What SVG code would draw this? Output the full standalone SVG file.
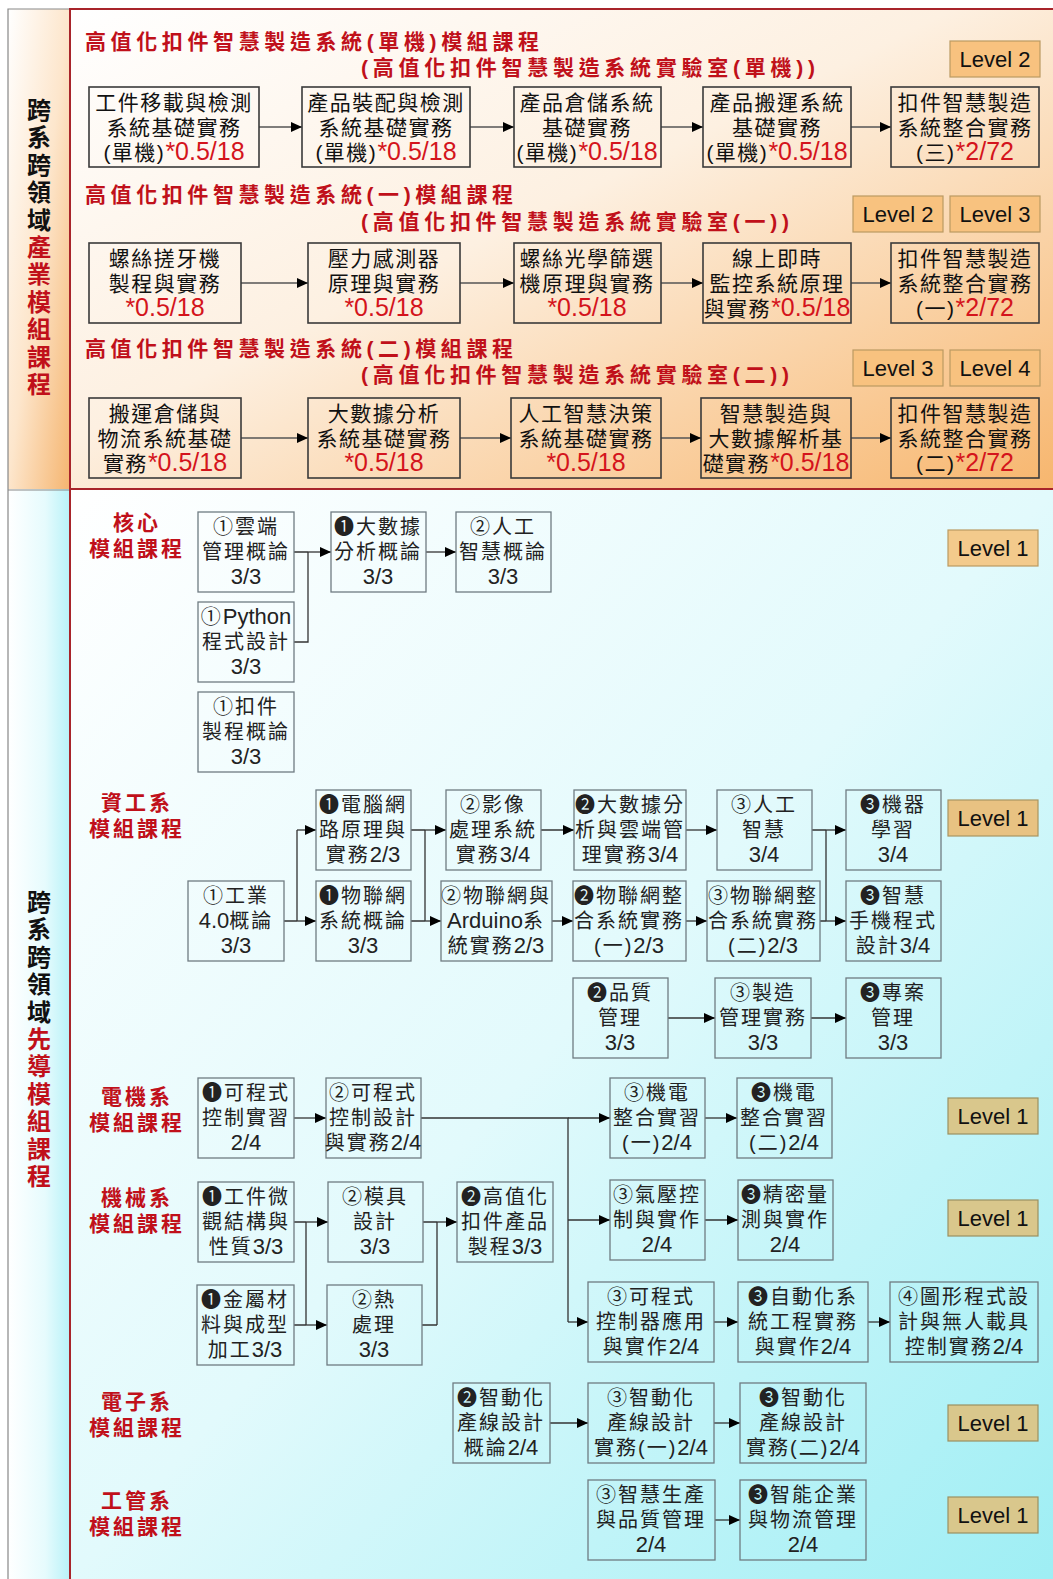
<svg xmlns="http://www.w3.org/2000/svg" width="1053" height="1579" viewBox="0 0 1053 1579" lang="zh-TW">
<defs>
<linearGradient id="gTop" x1="0" y1="0" x2="1" y2="1">
<stop offset="0" stop-color="#ffffff"/><stop offset="0.45" stop-color="#fdf0e1"/><stop offset="1" stop-color="#f7b66e"/>
</linearGradient>
<linearGradient id="gTopL" x1="0" y1="0" x2="1" y2="1">
<stop offset="0" stop-color="#ffffff"/><stop offset="0.5" stop-color="#fde6cc"/><stop offset="1" stop-color="#f5b570"/>
</linearGradient>
<linearGradient id="gBot" x1="0" y1="0" x2="1" y2="1">
<stop offset="0" stop-color="#ffffff"/><stop offset="0.5" stop-color="#e2fafc"/><stop offset="1" stop-color="#9eeef4"/>
</linearGradient>
<linearGradient id="gBotL" x1="0" y1="0" x2="1" y2="0">
<stop offset="0" stop-color="#ffffff"/><stop offset="0.6" stop-color="#e6fbfd"/><stop offset="1" stop-color="#b8f2f8"/>
</linearGradient>
<marker id="ah" markerWidth="11" markerHeight="10" refX="11" refY="5" orient="auto" markerUnits="userSpaceOnUse">
<path d="M0,0 L11,5 L0,10 z" fill="#000"/>
</marker>
<style>
.bt{fill:none;stroke:#3a3a3a;stroke-width:1.6}
.bl{fill:none;stroke:#6f7c82;stroke-width:1.3}
.tt,.tl,.ttl,.lab,.vt{font-family:"Liberation Sans","Noto Sans CJK TC","DejaVu Sans",sans-serif}
.tt{font-size:21px;letter-spacing:1.5px;text-anchor:middle;fill:#111}
.tl{font-size:20px;letter-spacing:2px;text-anchor:middle;fill:#222}
.n{letter-spacing:0}
.tt .n{font-size:25px}
.tl .n{font-size:22px}
.r{fill:#d4141c}
.ttl{font-size:21px;font-weight:700;fill:#c0101a}
.lab{font-size:21px;font-weight:700;fill:#c0101a;text-anchor:middle;letter-spacing:3px}
.vt{font-size:24px;font-weight:700;text-anchor:middle;fill:#111}
.vt .r{fill:#c0101a}
.lv{font-family:"Liberation Sans",Arial,sans-serif;font-size:22px;text-anchor:middle;fill:#111}
.lvT{fill:#f8c27f;stroke:#bb9a62;stroke-width:1.2}
.lvC{fill:#f3ca8c;stroke:#bb9a62;stroke-width:1.2}
.lvD{fill:#e8c282;stroke:#a89462;stroke-width:1.2}
.lvK{fill:#d9c78c;stroke:#9a9062;stroke-width:1.2}
.ct{fill:none;stroke:#555;stroke-width:1.3}
.cl{fill:none;stroke:#333;stroke-width:1.3}
</style>
</defs>

<g id="background">
<rect x="70" y="9" width="983" height="480" fill="url(#gTop)"/>
<rect x="8" y="9" width="62" height="480" fill="url(#gTopL)"/>
<rect x="70" y="489" width="983" height="1090" fill="url(#gBot)"/>
<rect x="8" y="489" width="62" height="1090" fill="url(#gBotL)"/>
<path d="M8,1579 V9 H70 M8,490 H70" fill="none" stroke="#888" stroke-width="1.2"/>
<path d="M70,1579 V9 H1053 M70,489 H1053" fill="none" stroke="#a8242a" stroke-width="2"/>
</g>

<g id="side-top">
<text class="vt"><tspan x="39" y="119">跨</tspan><tspan x="39" y="146">系</tspan><tspan x="39" y="174">跨</tspan><tspan x="39" y="201">領</tspan><tspan x="39" y="229">域</tspan><tspan class="r" x="39" y="256">產</tspan><tspan class="r" x="39" y="283">業</tspan><tspan class="r" x="39" y="311">模</tspan><tspan class="r" x="39" y="338">組</tspan><tspan class="r" x="39" y="366">課</tspan><tspan class="r" x="39" y="393">程</tspan></text>
</g>
<g id="side-bottom">
<text class="vt"><tspan x="39" y="911">跨</tspan><tspan x="39" y="938">系</tspan><tspan x="39" y="966">跨</tspan><tspan x="39" y="993">領</tspan><tspan x="39" y="1021">域</tspan><tspan class="r" x="39" y="1048">先</tspan><tspan class="r" x="39" y="1075">導</tspan><tspan class="r" x="39" y="1103">模</tspan><tspan class="r" x="39" y="1130">組</tspan><tspan class="r" x="39" y="1158">課</tspan><tspan class="r" x="39" y="1185">程</tspan></text>
</g>

<g id="titles">
<text class="ttl" x="85" y="49" textLength="454" lengthAdjust="spacing">高值化扣件智慧製造系統(單機)模組課程</text>
<text class="ttl" x="361" y="75" textLength="454" lengthAdjust="spacing">(高值化扣件智慧製造系統實驗室(單機))</text>
<text class="ttl" x="85" y="202" textLength="428" lengthAdjust="spacing">高值化扣件智慧製造系統(一)模組課程</text>
<text class="ttl" x="361" y="229" textLength="428" lengthAdjust="spacing">(高值化扣件智慧製造系統實驗室(一))</text>
<text class="ttl" x="85" y="356" textLength="428" lengthAdjust="spacing">高值化扣件智慧製造系統(二)模組課程</text>
<text class="ttl" x="361" y="382" textLength="428" lengthAdjust="spacing">(高值化扣件智慧製造系統實驗室(二))</text>
</g>

<g id="levels">
<g id="lv-r1"><rect class="lvT" x="950" y="41" width="90" height="36"/><text class="lv" x="995" y="67">Level 2</text></g>
<g id="lv-r2a"><rect class="lvT" x="853" y="196" width="90" height="36"/><text class="lv" x="898" y="222">Level 2</text></g>
<g id="lv-r2b"><rect class="lvT" x="950" y="196" width="90" height="36"/><text class="lv" x="995" y="222">Level 3</text></g>
<g id="lv-r3a"><rect class="lvT" x="853" y="350" width="90" height="36"/><text class="lv" x="898" y="376">Level 3</text></g>
<g id="lv-r3b"><rect class="lvT" x="950" y="350" width="90" height="36"/><text class="lv" x="995" y="376">Level 4</text></g>
<g id="lv-core"><rect class="lvC" x="948" y="530" width="90" height="36"/><text class="lv" x="993" y="556">Level 1</text></g>
<g id="lv-csie"><rect class="lvD" x="948" y="800" width="90" height="36"/><text class="lv" x="993" y="826">Level 1</text></g>
<g id="lv-ee"><rect class="lvK" x="948" y="1098" width="90" height="36"/><text class="lv" x="993" y="1124">Level 1</text></g>
<g id="lv-me"><rect class="lvK" x="948" y="1200" width="90" height="36"/><text class="lv" x="993" y="1226">Level 1</text></g>
<g id="lv-ele"><rect class="lvK" x="948" y="1405" width="90" height="36"/><text class="lv" x="993" y="1431">Level 1</text></g>
<g id="lv-im"><rect class="lvK" x="948" y="1497" width="90" height="36"/><text class="lv" x="993" y="1523">Level 1</text></g>
</g>

<g id="labels">
<text class="lab" x="137" y="530">核心</text><text class="lab" x="137" y="556">模組課程</text>
<text class="lab" x="137" y="810">資工系</text><text class="lab" x="137" y="836">模組課程</text>
<text class="lab" x="137" y="1104">電機系</text><text class="lab" x="137" y="1130">模組課程</text>
<text class="lab" x="137" y="1205">機械系</text><text class="lab" x="137" y="1231">模組課程</text>
<text class="lab" x="137" y="1409">電子系</text><text class="lab" x="137" y="1435">模組課程</text>
<text class="lab" x="137" y="1508">工管系</text><text class="lab" x="137" y="1534">模組課程</text>
</g>

<g id="connectors">
<path class="ct" marker-end="url(#ah)" d="M259,127 H302"/>
<path class="ct" marker-end="url(#ah)" d="M470,127 H514"/>
<path class="ct" marker-end="url(#ah)" d="M661,127 H703"/>
<path class="ct" marker-end="url(#ah)" d="M851,127 H891"/>
<path class="ct" marker-end="url(#ah)" d="M241,283 H308"/>
<path class="ct" marker-end="url(#ah)" d="M460,283 H514"/>
<path class="ct" marker-end="url(#ah)" d="M661,283 H703"/>
<path class="ct" marker-end="url(#ah)" d="M851,283 H891"/>
<path class="ct" marker-end="url(#ah)" d="M241,438 H308"/>
<path class="ct" marker-end="url(#ah)" d="M460,438 H511"/>
<path class="ct" marker-end="url(#ah)" d="M661,438 H701"/>
<path class="ct" marker-end="url(#ah)" d="M851,438 H891"/>
<path class="cl" d="M294,552 H308 M294,642 H308 V552"/>
<path class="cl" marker-end="url(#ah)" d="M308,552 H331"/>
<path class="cl" marker-end="url(#ah)" d="M426,552 H456"/>
<path class="cl" d="M284,921 H297 M297,830 V921"/>
<path class="cl" marker-end="url(#ah)" d="M297,830 H316"/>
<path class="cl" marker-end="url(#ah)" d="M297,921 H316"/>
<path class="cl" d="M411,830 H425 M411,921 H425 M425,830 V921"/>
<path class="cl" marker-end="url(#ah)" d="M425,830 H446"/>
<path class="cl" marker-end="url(#ah)" d="M425,921 H441"/>
<path class="cl" marker-end="url(#ah)" d="M541,830 H574"/>
<path class="cl" marker-end="url(#ah)" d="M552,921 H573"/>
<path class="cl" marker-end="url(#ah)" d="M686,830 H717"/>
<path class="cl" marker-end="url(#ah)" d="M686,921 H707"/>
<path class="cl" d="M812,830 H826 M820,921 H826 M826,830 V921"/>
<path class="cl" marker-end="url(#ah)" d="M826,830 H846"/>
<path class="cl" marker-end="url(#ah)" d="M826,921 H846"/>
<path class="cl" marker-end="url(#ah)" d="M668,1018 H715"/>
<path class="cl" marker-end="url(#ah)" d="M811,1018 H846"/>
<path class="cl" marker-end="url(#ah)" d="M294,1118 H326"/>
<path class="cl" d="M421,1118 H568 V1322"/>
<path class="cl" marker-end="url(#ah)" d="M568,1118 H610"/>
<path class="cl" marker-end="url(#ah)" d="M568,1220 H610"/>
<path class="cl" marker-end="url(#ah)" d="M568,1322 H588"/>
<path class="cl" marker-end="url(#ah)" d="M705,1118 H737"/>
<path class="cl" d="M294,1222 H306 M294,1325 H306 M306,1222 V1325"/>
<path class="cl" marker-end="url(#ah)" d="M306,1222 H328"/>
<path class="cl" marker-end="url(#ah)" d="M306,1325 H327"/>
<path class="cl" d="M423,1222 H437 M422,1325 H437 M437,1222 V1325"/>
<path class="cl" marker-end="url(#ah)" d="M437,1222 H457"/>
<path class="cl" marker-end="url(#ah)" d="M705,1220 H738"/>
<path class="cl" marker-end="url(#ah)" d="M714,1322 H738"/>
<path class="cl" marker-end="url(#ah)" d="M868,1322 H890"/>
<path class="cl" marker-end="url(#ah)" d="M550,1423 H588"/>
<path class="cl" marker-end="url(#ah)" d="M714,1423 H740"/>
<path class="cl" marker-end="url(#ah)" d="M715,1520 H740"/>
</g>

<g id="top-row1">
<g id="t1a"><rect class="bt" x="89" y="87" width="170" height="80"/><text class="tt"><tspan x="174" y="110">工件移載與檢測</tspan><tspan x="174" y="135">系統基礎實務</tspan><tspan x="174" y="160">(單機)<tspan class="n r">*0.5/18</tspan></tspan></text></g>
<g id="t1b"><rect class="bt" x="302" y="87" width="168" height="80"/><text class="tt"><tspan x="386" y="110">產品裝配與檢測</tspan><tspan x="386" y="135">系統基礎實務</tspan><tspan x="386" y="160">(單機)<tspan class="n r">*0.5/18</tspan></tspan></text></g>
<g id="t1c"><rect class="bt" x="514" y="87" width="147" height="80"/><text class="tt"><tspan x="587" y="110">產品倉儲系統</tspan><tspan x="587" y="135">基礎實務</tspan><tspan x="587" y="160">(單機)<tspan class="n r">*0.5/18</tspan></tspan></text></g>
<g id="t1d"><rect class="bt" x="703" y="87" width="148" height="80"/><text class="tt"><tspan x="777" y="110">產品搬運系統</tspan><tspan x="777" y="135">基礎實務</tspan><tspan x="777" y="160">(單機)<tspan class="n r">*0.5/18</tspan></tspan></text></g>
<g id="t1e"><rect class="bt" x="891" y="87" width="148" height="80"/><text class="tt"><tspan x="965" y="110">扣件智慧製造</tspan><tspan x="965" y="135">系統整合實務</tspan><tspan x="965" y="160">(三)<tspan class="n r">*2/72</tspan></tspan></text></g>
</g>

<g id="top-row2">
<g id="t2a"><rect class="bt" x="89" y="243" width="152" height="80"/><text class="tt"><tspan x="165" y="266">螺絲搓牙機</tspan><tspan x="165" y="291">製程與實務</tspan><tspan x="165" y="316" class="n r">*0.5/18</tspan></text></g>
<g id="t2b"><rect class="bt" x="308" y="243" width="152" height="80"/><text class="tt"><tspan x="384" y="266">壓力感測器</tspan><tspan x="384" y="291">原理與實務</tspan><tspan x="384" y="316" class="n r">*0.5/18</tspan></text></g>
<g id="t2c"><rect class="bt" x="514" y="243" width="147" height="80"/><text class="tt"><tspan x="587" y="266">螺絲光學篩選</tspan><tspan x="587" y="291">機原理與實務</tspan><tspan x="587" y="316" class="n r">*0.5/18</tspan></text></g>
<g id="t2d"><rect class="bt" x="703" y="243" width="148" height="80"/><text class="tt"><tspan x="777" y="266">線上即時</tspan><tspan x="777" y="291">監控系統原理</tspan><tspan x="777" y="316">與實務<tspan class="n r">*0.5/18</tspan></tspan></text></g>
<g id="t2e"><rect class="bt" x="891" y="243" width="148" height="80"/><text class="tt"><tspan x="965" y="266">扣件智慧製造</tspan><tspan x="965" y="291">系統整合實務</tspan><tspan x="965" y="316">(一)<tspan class="n r">*2/72</tspan></tspan></text></g>
</g>

<g id="top-row3">
<g id="t3a"><rect class="bt" x="89" y="398" width="152" height="80"/><text class="tt"><tspan x="165" y="421">搬運倉儲與</tspan><tspan x="165" y="446">物流系統基礎</tspan><tspan x="165" y="471">實務<tspan class="n r">*0.5/18</tspan></tspan></text></g>
<g id="t3b"><rect class="bt" x="308" y="398" width="152" height="80"/><text class="tt"><tspan x="384" y="421">大數據分析</tspan><tspan x="384" y="446">系統基礎實務</tspan><tspan x="384" y="471" class="n r">*0.5/18</tspan></text></g>
<g id="t3c"><rect class="bt" x="511" y="398" width="150" height="80"/><text class="tt"><tspan x="586" y="421">人工智慧決策</tspan><tspan x="586" y="446">系統基礎實務</tspan><tspan x="586" y="471" class="n r">*0.5/18</tspan></text></g>
<g id="t3d"><rect class="bt" x="701" y="398" width="150" height="80"/><text class="tt"><tspan x="776" y="421">智慧製造與</tspan><tspan x="776" y="446">大數據解析基</tspan><tspan x="776" y="471">礎實務<tspan class="n r">*0.5/18</tspan></tspan></text></g>
<g id="t3e"><rect class="bt" x="891" y="398" width="148" height="80"/><text class="tt"><tspan x="965" y="421">扣件智慧製造</tspan><tspan x="965" y="446">系統整合實務</tspan><tspan x="965" y="471">(二)<tspan class="n r">*2/72</tspan></tspan></text></g>
</g>

<g id="core">
<g id="c1"><rect class="bl" x="198" y="512" width="96" height="80"/><text class="tl"><tspan x="246" y="534">①雲端</tspan><tspan x="246" y="559">管理概論</tspan><tspan x="246" y="584" class="n">3/3</tspan></text></g>
<g id="c2"><rect class="bl" x="198" y="602" width="96" height="80"/><text class="tl"><tspan x="246" y="624">①<tspan class="n">Python</tspan></tspan><tspan x="246" y="649">程式設計</tspan><tspan x="246" y="674" class="n">3/3</tspan></text></g>
<g id="c3"><rect class="bl" x="198" y="692" width="96" height="80"/><text class="tl"><tspan x="246" y="714">①扣件</tspan><tspan x="246" y="739">製程概論</tspan><tspan x="246" y="764" class="n">3/3</tspan></text></g>
<g id="c4"><rect class="bl" x="331" y="512" width="95" height="80"/><text class="tl"><tspan x="378" y="534">❶大數據</tspan><tspan x="378" y="559">分析概論</tspan><tspan x="378" y="584" class="n">3/3</tspan></text></g>
<g id="c5"><rect class="bl" x="456" y="512" width="95" height="80"/><text class="tl"><tspan x="503" y="534">②人工</tspan><tspan x="503" y="559">智慧概論</tspan><tspan x="503" y="584" class="n">3/3</tspan></text></g>
</g>

<g id="csie">
<g id="d1"><rect class="bl" x="188" y="881" width="96" height="80"/><text class="tl"><tspan x="236" y="903">①工業</tspan><tspan x="236" y="928"><tspan class="n">4.0</tspan>概論</tspan><tspan x="236" y="953" class="n">3/3</tspan></text></g>
<g id="d2"><rect class="bl" x="316" y="790" width="95" height="80"/><text class="tl"><tspan x="363" y="812">❶電腦網</tspan><tspan x="363" y="837">路原理與</tspan><tspan x="363" y="862">實務<tspan class="n">2/3</tspan></tspan></text></g>
<g id="d3"><rect class="bl" x="316" y="881" width="95" height="80"/><text class="tl"><tspan x="363" y="903">❶物聯網</tspan><tspan x="363" y="928">系統概論</tspan><tspan x="363" y="953" class="n">3/3</tspan></text></g>
<g id="d4"><rect class="bl" x="446" y="790" width="95" height="80"/><text class="tl"><tspan x="493" y="812">②影像</tspan><tspan x="493" y="837">處理系統</tspan><tspan x="493" y="862">實務<tspan class="n">3/4</tspan></tspan></text></g>
<g id="d5"><rect class="bl" x="441" y="881" width="111" height="80"/><text class="tl"><tspan x="496" y="903">②物聯網與</tspan><tspan x="496" y="928"><tspan class="n">Arduino</tspan>系</tspan><tspan x="496" y="953">統實務<tspan class="n">2/3</tspan></tspan></text></g>
<g id="d6"><rect class="bl" x="574" y="790" width="112" height="80"/><text class="tl"><tspan x="630" y="812">❷大數據分</tspan><tspan x="630" y="837">析與雲端管</tspan><tspan x="630" y="862">理實務<tspan class="n">3/4</tspan></tspan></text></g>
<g id="d7"><rect class="bl" x="573" y="881" width="113" height="80"/><text class="tl"><tspan x="629" y="903">❷物聯網整</tspan><tspan x="629" y="928">合系統實務</tspan><tspan x="629" y="953">(一)<tspan class="n">2/3</tspan></tspan></text></g>
<g id="d8"><rect class="bl" x="717" y="790" width="95" height="80"/><text class="tl"><tspan x="764" y="812">③人工</tspan><tspan x="764" y="837">智慧</tspan><tspan x="764" y="862" class="n">3/4</tspan></text></g>
<g id="d9"><rect class="bl" x="707" y="881" width="113" height="80"/><text class="tl"><tspan x="763" y="903">③物聯網整</tspan><tspan x="763" y="928">合系統實務</tspan><tspan x="763" y="953">(二)<tspan class="n">2/3</tspan></tspan></text></g>
<g id="d10"><rect class="bl" x="846" y="790" width="95" height="80"/><text class="tl"><tspan x="893" y="812">❸機器</tspan><tspan x="893" y="837">學習</tspan><tspan x="893" y="862" class="n">3/4</tspan></text></g>
<g id="d11"><rect class="bl" x="846" y="881" width="95" height="80"/><text class="tl"><tspan x="893" y="903">❸智慧</tspan><tspan x="893" y="928">手機程式</tspan><tspan x="893" y="953">設計<tspan class="n">3/4</tspan></tspan></text></g>
<g id="d12"><rect class="bl" x="573" y="978" width="95" height="80"/><text class="tl"><tspan x="620" y="1000">❷品質</tspan><tspan x="620" y="1025">管理</tspan><tspan x="620" y="1050" class="n">3/3</tspan></text></g>
<g id="d13"><rect class="bl" x="715" y="978" width="96" height="80"/><text class="tl"><tspan x="763" y="1000">③製造</tspan><tspan x="763" y="1025">管理實務</tspan><tspan x="763" y="1050" class="n">3/3</tspan></text></g>
<g id="d14"><rect class="bl" x="846" y="978" width="95" height="80"/><text class="tl"><tspan x="893" y="1000">❸專案</tspan><tspan x="893" y="1025">管理</tspan><tspan x="893" y="1050" class="n">3/3</tspan></text></g>
</g>

<g id="ee">
<g id="e1"><rect class="bl" x="198" y="1078" width="96" height="80"/><text class="tl"><tspan x="246" y="1100">❶可程式</tspan><tspan x="246" y="1125">控制實習</tspan><tspan x="246" y="1150" class="n">2/4</tspan></text></g>
<g id="e2"><rect class="bl" x="326" y="1078" width="95" height="80"/><text class="tl"><tspan x="373" y="1100">②可程式</tspan><tspan x="373" y="1125">控制設計</tspan><tspan x="373" y="1150">與實務<tspan class="n">2/4</tspan></tspan></text></g>
<g id="e3"><rect class="bl" x="610" y="1078" width="95" height="80"/><text class="tl"><tspan x="657" y="1100">③機電</tspan><tspan x="657" y="1125">整合實習</tspan><tspan x="657" y="1150">(一)<tspan class="n">2/4</tspan></tspan></text></g>
<g id="e4"><rect class="bl" x="737" y="1078" width="95" height="80"/><text class="tl"><tspan x="784" y="1100">❸機電</tspan><tspan x="784" y="1125">整合實習</tspan><tspan x="784" y="1150">(二)<tspan class="n">2/4</tspan></tspan></text></g>
</g>

<g id="me">
<g id="m1"><rect class="bl" x="198" y="1182" width="96" height="80"/><text class="tl"><tspan x="246" y="1204">❶工件微</tspan><tspan x="246" y="1229">觀結構與</tspan><tspan x="246" y="1254">性質<tspan class="n">3/3</tspan></tspan></text></g>
<g id="m2"><rect class="bl" x="197" y="1285" width="97" height="80"/><text class="tl"><tspan x="245" y="1307">❶金屬材</tspan><tspan x="245" y="1332">料與成型</tspan><tspan x="245" y="1357">加工<tspan class="n">3/3</tspan></tspan></text></g>
<g id="m3"><rect class="bl" x="328" y="1182" width="95" height="80"/><text class="tl"><tspan x="375" y="1204">②模具</tspan><tspan x="375" y="1229">設計</tspan><tspan x="375" y="1254" class="n">3/3</tspan></text></g>
<g id="m4"><rect class="bl" x="327" y="1285" width="95" height="80"/><text class="tl"><tspan x="374" y="1307">②熱</tspan><tspan x="374" y="1332">處理</tspan><tspan x="374" y="1357" class="n">3/3</tspan></text></g>
<g id="m5"><rect class="bl" x="457" y="1182" width="96" height="80"/><text class="tl"><tspan x="505" y="1204">❷高值化</tspan><tspan x="505" y="1229">扣件產品</tspan><tspan x="505" y="1254">製程<tspan class="n">3/3</tspan></tspan></text></g>
<g id="m6"><rect class="bl" x="610" y="1180" width="95" height="80"/><text class="tl"><tspan x="657" y="1202">③氣壓控</tspan><tspan x="657" y="1227">制與實作</tspan><tspan x="657" y="1252" class="n">2/4</tspan></text></g>
<g id="m7"><rect class="bl" x="738" y="1180" width="95" height="80"/><text class="tl"><tspan x="785" y="1202">❸精密量</tspan><tspan x="785" y="1227">測與實作</tspan><tspan x="785" y="1252" class="n">2/4</tspan></text></g>
<g id="m8"><rect class="bl" x="588" y="1282" width="126" height="80"/><text class="tl"><tspan x="651" y="1304">③可程式</tspan><tspan x="651" y="1329">控制器應用</tspan><tspan x="651" y="1354">與實作<tspan class="n">2/4</tspan></tspan></text></g>
<g id="m9"><rect class="bl" x="738" y="1282" width="130" height="80"/><text class="tl"><tspan x="803" y="1304">❸自動化系</tspan><tspan x="803" y="1329">統工程實務</tspan><tspan x="803" y="1354">與實作<tspan class="n">2/4</tspan></tspan></text></g>
<g id="m10"><rect class="bl" x="890" y="1282" width="148" height="80"/><text class="tl"><tspan x="964" y="1304">④圖形程式設</tspan><tspan x="964" y="1329">計與無人載具</tspan><tspan x="964" y="1354">控制實務<tspan class="n">2/4</tspan></tspan></text></g>
</g>

<g id="ele">
<g id="x1"><rect class="bl" x="453" y="1383" width="97" height="80"/><text class="tl"><tspan x="501" y="1405">❷智動化</tspan><tspan x="501" y="1430">產線設計</tspan><tspan x="501" y="1455">概論<tspan class="n">2/4</tspan></tspan></text></g>
<g id="x2"><rect class="bl" x="588" y="1383" width="126" height="80"/><text class="tl"><tspan x="651" y="1405">③智動化</tspan><tspan x="651" y="1430">產線設計</tspan><tspan x="651" y="1455">實務(一)<tspan class="n">2/4</tspan></tspan></text></g>
<g id="x3"><rect class="bl" x="740" y="1383" width="126" height="80"/><text class="tl"><tspan x="803" y="1405">❸智動化</tspan><tspan x="803" y="1430">產線設計</tspan><tspan x="803" y="1455">實務(二)<tspan class="n">2/4</tspan></tspan></text></g>
</g>

<g id="im">
<g id="g1"><rect class="bl" x="588" y="1480" width="127" height="80"/><text class="tl"><tspan x="651" y="1502">③智慧生產</tspan><tspan x="651" y="1527">與品質管理</tspan><tspan x="651" y="1552" class="n">2/4</tspan></text></g>
<g id="g2"><rect class="bl" x="740" y="1480" width="126" height="80"/><text class="tl"><tspan x="803" y="1502">❸智能企業</tspan><tspan x="803" y="1527">與物流管理</tspan><tspan x="803" y="1552" class="n">2/4</tspan></text></g>
</g>
</svg>
